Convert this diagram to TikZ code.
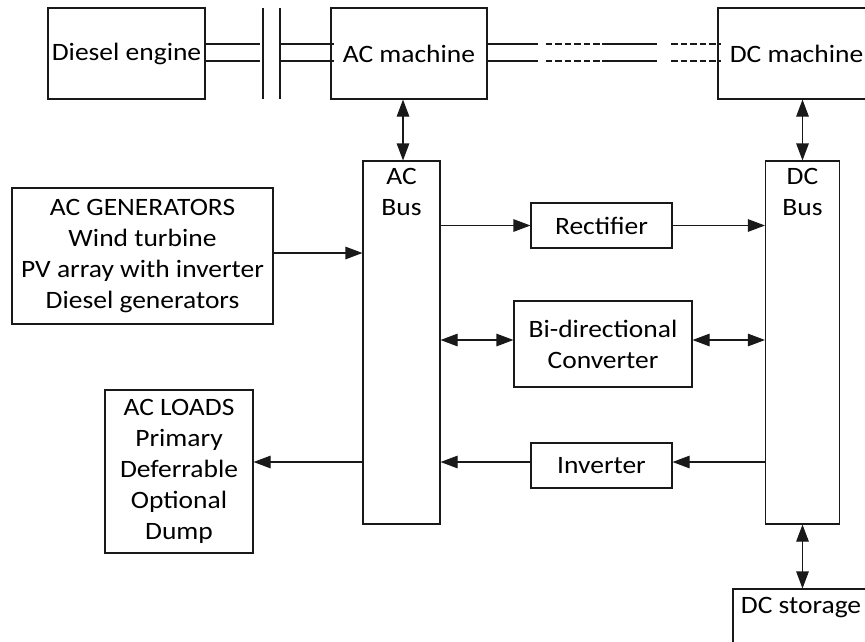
\documentclass[tikz,border=0pt]{standalone}
\usepackage{fontspec}
\setmainfont{Carlito}[FakeStretch=1.1]
\usetikzlibrary{arrows.meta}
\begin{document}
\begin{tikzpicture}[x=1pt,y=-1pt,
  box/.style={draw=black!90, line width=1.1pt, rectangle, inner sep=0pt, align=center,
    font=\fontsize{25}{31}\selectfont},
  txt/.style={inner sep=0pt, align=center, font=\fontsize{25}{31}\selectfont},
  tip/.style={Triangle[length=17pt,width=12.5pt]},
  arr/.style={draw=black!90, line width=1.1pt, -{Triangle[length=17pt,width=12.5pt]}},
  biarr/.style={draw=black!90, line width=1.1pt, {Triangle[length=17pt,width=12.5pt]}-{Triangle[length=17pt,width=12.5pt]}},
  shaft/.style={draw=black!90, line width=1.1pt},
  shaftdash/.style={draw=black!90, line width=1.1pt, dash pattern=on 6.5pt off 3pt}]
\useasboundingbox (0,0) rectangle (865,641);
\clip (0,0) rectangle (865,641);

% machines on the shaft
\node[box, minimum width=157pt, minimum height=91pt] (diesel) at (126.5,53.5) {Diesel engine};
\node[box, minimum width=156pt, minimum height=91pt] (acm) at (409,53.5) {AC machine};
\node[box, minimum width=157pt, minimum height=91pt] (dcm) at (796.5,53.5) {DC machine};

% buses
\node[box, minimum width=77pt, minimum height=363pt] (acbus) at (401.5,342.5) {};
\node[txt, anchor=north] (acbuslbl) at ([yshift=-8pt]acbus.north) {AC\\Bus};
\node[box, minimum width=74pt, minimum height=363pt] (dcbus) at (802.5,342.5) {};
\node[txt, anchor=north] (dcbuslbl) at ([yshift=-8pt]dcbus.north) {DC\\Bus};

% sources, loads and converters
\node[box, minimum width=261pt, minimum height=136pt] (gen) at (142.5,256)
  {AC GENERATORS\\Wind turbine\\PV array with inverter\\Diesel generators};
\node[box, minimum width=148pt, minimum height=163pt] (loads) at (179,471.5)
  {AC LOADS\\Primary\\Deferrable\\Optional\\Dump};
\node[box, minimum width=141pt, minimum height=45pt] (rect) at (601.5,225.5) {Rectifier};
\node[box, minimum width=178pt, minimum height=86pt] (bidir) at (603,344) {Bi-directional\\Converter};
\node[box, minimum width=141pt, minimum height=45pt] (inv) at (601.5,465.5) {Inverter};
\node[box, minimum width=136pt, minimum height=110pt] (dcs) at (801,644) {};
\node[txt, anchor=north] (dcslbl) at ([yshift=-9pt]dcs.north) {DC storage};

% mechanical coupling
\coordinate (c1) at (263,8);
\coordinate (c2) at (280,8);
\draw[shaft] (c1) -- (263,99);
\draw[shaft] (c2) -- (280,99);
\foreach \yy in {44,61} {
  \draw[shaft] (diesel.east |- 0,\yy) -- (260,\yy);
  \draw[shaft] (280,\yy) -- (334,\yy);
  \draw[shaft] (acm.east |- 0,\yy) -- (538,\yy);
  \draw[shaftdash] (545.5,\yy) -- (602,\yy);
  \draw[shaft] (602,\yy) -- (657,\yy);
  \draw[shaftdash] (671,\yy) -- (721,\yy);
}

% power flows
\draw[biarr] (acm.south -| 403,0) -- (acbus.north -| 403,0);
\draw[biarr] (dcm.south -| dcbus.north) -- (dcbus.north);
\draw[biarr] (dcbus.south) -- (dcs.north -| dcbus.south);
\draw[arr] (gen.east |- 0,253) -- (acbus.west |- 0,253);
\draw[arr] (acbus.east |- rect.west) -- (rect.west);
\draw[arr] (rect.east) -- (dcbus.west |- rect.east);
\draw[biarr] (acbus.east |- 0,340) -- (bidir.west |- 0,340);
\draw[biarr] (bidir.east |- 0,340) -- (dcbus.west |- 0,340);
\draw[arr] (dcbus.west |- 0,462) -- (inv.east |- 0,462);
\draw[arr] (inv.west |- 0,462) -- (acbus.east |- 0,462);
\draw[arr] (acbus.west |- 0,462) -- (loads.east |- 0,462);
\end{tikzpicture}
\end{document}
